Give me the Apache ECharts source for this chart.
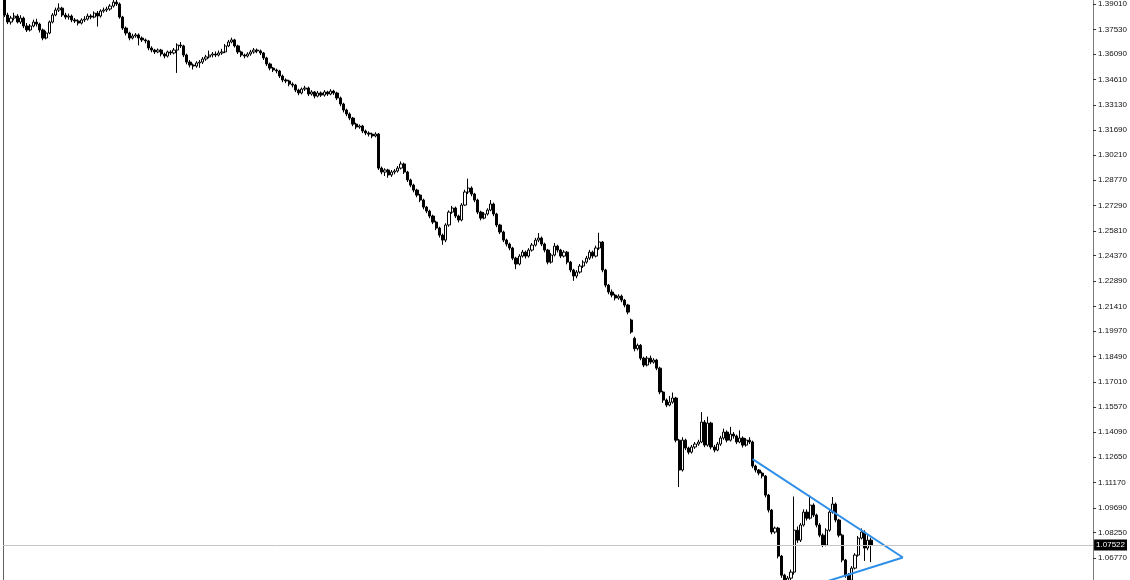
<!DOCTYPE html>
<html><head><meta charset="utf-8">
<script src="https://cdn.jsdelivr.net/npm/echarts@6/dist/echarts.min.js"></script>
<style>html,body{margin:0;padding:0;background:#fff;overflow:hidden}#c{width:1130px;height:580px}</style>
</head><body><div id="c"></div>
<script>
const open = [
1.3930,1.3837,1.3796,1.3819,1.3831,1.3796,1.3819,1.3773,1.3750,1.3773,
1.3796,1.3784,1.3750,1.3703,1.3732,1.3796,1.3837,1.3866,1.3877,1.3837,
1.3825,1.3831,1.3808,1.3802,1.3790,1.3808,1.3813,1.3831,1.3825,1.3848,
1.3831,1.3860,1.3866,1.3872,1.3889,1.3912,1.3901,1.3825,1.3761,1.3732,
1.3703,1.3715,1.3721,1.3703,1.3692,1.3686,1.3645,1.3633,1.3622,1.3633,
1.3610,1.3598,1.3622,1.3616,1.3633,1.3662,1.3657,1.3604,1.3563,1.3546,
1.3540,1.3558,1.3563,1.3581,1.3593,1.3604,1.3610,1.3604,1.3616,1.3622,
1.3657,1.3680,1.3692,1.3657,1.3622,1.3604,1.3598,1.3610,1.3622,1.3633,
1.3628,1.3616,1.3587,1.3552,1.3528,1.3517,1.3511,1.3482,1.3459,1.3453,
1.3435,1.3429,1.3400,1.3383,1.3406,1.3412,1.3377,1.3389,1.3365,1.3383,
1.3371,1.3389,1.3377,1.3394,1.3383,1.3354,1.3319,1.3284,1.3261,1.3237,
1.3202,1.3185,1.3191,1.3162,1.3150,1.3144,1.3133,1.3144,1.2946,1.2923,
1.2935,1.2906,1.2923,1.2929,1.2946,1.2970,1.2923,1.2877,1.2847,1.2818,
1.2789,1.2760,1.2719,1.2696,1.2667,1.2632,1.2597,1.2556,1.2527,1.2615,
1.2690,1.2714,1.2667,1.2644,1.2731,1.2807,1.2830,1.2795,1.2760,1.2690,
1.2655,1.2679,1.2702,1.2737,1.2679,1.2615,1.2574,1.2527,1.2504,1.2481,
1.2422,1.2388,1.2434,1.2457,1.2434,1.2469,1.2498,1.2527,1.2539,1.2504,
1.2469,1.2399,1.2440,1.2492,1.2469,1.2434,1.2457,1.2399,1.2353,1.2318,
1.2341,1.2376,1.2399,1.2422,1.2457,1.2434,1.2481,1.2516,1.2353,1.2265,
1.2225,1.2207,1.2190,1.2201,1.2178,1.2149,1.2062,1.1955,1.1895,1.1915,
1.1840,1.1800,1.1840,1.1817,1.1829,1.1782,1.1643,1.1596,1.1567,1.1584,
1.1608,1.1363,1.1189,1.1363,1.1317,1.1293,1.1323,1.1340,1.1352,1.1468,
1.1334,1.1462,1.1323,1.1305,1.1340,1.1375,1.1410,1.1363,1.1398,1.1387,
1.1352,1.1375,1.1334,1.1363,1.1352,1.1212,1.1189,1.1171,1.1154,1.1043,
1.0956,1.0828,1.0851,1.0688,1.0577,1.0519,1.0560,1.0595,1.0839,1.0781,
1.0869,1.0944,1.0909,1.0985,1.0927,1.0869,1.0810,1.0752,1.0839,1.0944,
1.0991,1.0898,1.0810,1.0665,1.0577,1.0548,1.0618,1.0694,1.0793,1.0828,
1.0735,1.0781
];
const close = [
1.3837,1.3796,1.3819,1.3831,1.3796,1.3819,1.3773,1.3750,1.3773,1.3796,
1.3784,1.3750,1.3703,1.3732,1.3796,1.3837,1.3866,1.3877,1.3837,1.3825,
1.3831,1.3808,1.3802,1.3790,1.3808,1.3813,1.3831,1.3825,1.3848,1.3831,
1.3860,1.3866,1.3872,1.3889,1.3912,1.3901,1.3825,1.3761,1.3732,1.3703,
1.3715,1.3721,1.3703,1.3692,1.3686,1.3645,1.3633,1.3622,1.3633,1.3610,
1.3598,1.3622,1.3616,1.3633,1.3662,1.3657,1.3604,1.3563,1.3546,1.3540,
1.3558,1.3563,1.3581,1.3593,1.3604,1.3610,1.3604,1.3616,1.3622,1.3657,
1.3680,1.3692,1.3657,1.3622,1.3604,1.3598,1.3610,1.3622,1.3633,1.3628,
1.3616,1.3587,1.3552,1.3528,1.3517,1.3511,1.3482,1.3459,1.3453,1.3435,
1.3429,1.3400,1.3383,1.3406,1.3412,1.3377,1.3389,1.3365,1.3383,1.3371,
1.3389,1.3377,1.3394,1.3383,1.3354,1.3319,1.3284,1.3261,1.3237,1.3202,
1.3185,1.3191,1.3162,1.3150,1.3144,1.3133,1.3144,1.2946,1.2923,1.2935,
1.2906,1.2923,1.2929,1.2946,1.2970,1.2923,1.2877,1.2847,1.2818,1.2789,
1.2760,1.2719,1.2696,1.2667,1.2632,1.2597,1.2556,1.2527,1.2615,1.2690,
1.2714,1.2667,1.2644,1.2731,1.2807,1.2830,1.2795,1.2760,1.2690,1.2655,
1.2679,1.2702,1.2737,1.2679,1.2615,1.2574,1.2527,1.2504,1.2481,1.2422,
1.2388,1.2434,1.2457,1.2434,1.2469,1.2498,1.2527,1.2539,1.2504,1.2469,
1.2399,1.2440,1.2492,1.2469,1.2434,1.2457,1.2399,1.2353,1.2318,1.2341,
1.2376,1.2399,1.2422,1.2457,1.2434,1.2481,1.2516,1.2353,1.2265,1.2225,
1.2207,1.2190,1.2201,1.2178,1.2149,1.2108,1.1992,1.1895,1.1915,1.1840,
1.1800,1.1840,1.1817,1.1829,1.1782,1.1643,1.1596,1.1567,1.1584,1.1608,
1.1363,1.1189,1.1363,1.1317,1.1293,1.1323,1.1340,1.1352,1.1468,1.1334,
1.1462,1.1323,1.1305,1.1340,1.1375,1.1410,1.1363,1.1398,1.1387,1.1352,
1.1375,1.1334,1.1363,1.1352,1.1212,1.1189,1.1171,1.1154,1.1043,1.0956,
1.0828,1.0851,1.0688,1.0577,1.0519,1.0560,1.0595,1.0839,1.0781,1.0869,
1.0944,1.0909,1.0985,1.0927,1.0869,1.0810,1.0752,1.0839,1.0944,1.0991,
1.0898,1.0810,1.0665,1.0577,1.0548,1.0618,1.0694,1.0793,1.0828,1.0735,
1.0781,1.07522
];
const low = [
1.3825,1.3784,1.3781,1.3805,1.3788,1.3785,1.3760,1.3738,1.3741,1.3765,
1.3770,1.3735,1.3690,1.3695,1.3725,1.3788,1.3830,1.3855,1.3826,1.3812,
1.3810,1.3795,1.3790,1.3776,1.3782,1.3796,1.3805,1.3812,1.3818,1.3770,
1.3822,1.3850,1.3855,1.3862,1.3880,1.3890,1.3815,1.3750,1.3718,1.3690,
1.3695,1.3705,1.3660,1.3680,1.3672,1.3632,1.3620,1.3610,1.3615,1.3596,
1.3585,1.3590,1.3604,1.3608,1.3500,1.3645,1.3592,1.3550,1.3532,1.3520,
1.3530,1.3530,1.3552,1.3570,1.3585,1.3590,1.3592,1.3596,1.3605,1.3615,
1.3650,1.3672,1.3648,1.3610,1.3592,1.3585,1.3590,1.3600,1.3612,1.3615,
1.3604,1.3575,1.3540,1.3515,1.3505,1.3498,1.3470,1.3446,1.3440,1.3422,
1.3416,1.3388,1.3370,1.3375,1.3395,1.3365,1.3368,1.3352,1.3358,1.3360,
1.3362,1.3366,1.3370,1.3372,1.3342,1.3306,1.3270,1.3248,1.3225,1.3190,
1.3172,1.3175,1.3150,1.3138,1.3130,1.3120,1.3125,1.2935,1.2910,1.2900,
1.2890,1.2895,1.2910,1.2920,1.2938,1.2912,1.2865,1.2835,1.2805,1.2776,
1.2748,1.2706,1.2684,1.2654,1.2620,1.2585,1.2542,1.2500,1.2515,1.2605,
1.2680,1.2655,1.2630,1.2636,1.2725,1.2795,1.2782,1.2748,1.2678,1.2642,
1.2648,1.2670,1.2695,1.2666,1.2602,1.2562,1.2515,1.2490,1.2468,1.2410,
1.2358,1.2380,1.2425,1.2420,1.2425,1.2460,1.2490,1.2515,1.2492,1.2456,
1.2386,1.2390,1.2432,1.2455,1.2422,1.2426,1.2386,1.2340,1.2290,1.2305,
1.2332,1.2365,1.2390,1.2412,1.2420,1.2426,1.2470,1.2340,1.2252,1.2212,
1.2194,1.2176,1.2180,1.2165,1.2136,1.2095,1.1982,1.1880,1.1885,1.1828,
1.1788,1.1792,1.1805,1.1808,1.1770,1.1630,1.1580,1.1555,1.1560,1.1575,
1.1350,1.1090,1.1180,1.1305,1.1280,1.1285,1.1312,1.1330,1.1345,1.1322,
1.1325,1.1310,1.1292,1.1298,1.1330,1.1365,1.1350,1.1355,1.1372,1.1340,
1.1345,1.1320,1.1325,1.1340,1.1200,1.1175,1.1158,1.1140,1.1030,1.0942,
1.0815,1.0818,1.0675,1.0562,1.0462,1.0500,1.0545,1.0580,1.0765,1.0770,
1.0860,1.0895,1.0900,1.0915,1.0855,1.0798,1.0740,1.0745,1.0830,1.0935,
1.0885,1.0798,1.0652,1.0562,1.0520,1.0540,1.0610,1.0685,1.0785,1.0660,
1.0722,1.0653
];
const high = [
1.3945,1.3850,1.3832,1.3850,1.3842,1.3836,1.3828,1.3790,1.3784,1.3810,
1.3815,1.3792,1.3758,1.3745,1.3805,1.3848,1.3880,1.3905,1.3885,1.3850,
1.3845,1.3840,1.3820,1.3812,1.3818,1.3830,1.3845,1.3842,1.3858,1.3860,
1.3870,1.3880,1.3885,1.3900,1.3940,1.3925,1.3910,1.3832,1.3770,1.3740,
1.3728,1.3732,1.3730,1.3712,1.3700,1.3692,1.3655,1.3640,1.3642,1.3640,
1.3618,1.3630,1.3632,1.3645,1.3672,1.3680,1.3664,1.3612,1.3575,1.3555,
1.3568,1.3575,1.3592,1.3605,1.3630,1.3622,1.3625,1.3630,1.3640,1.3668,
1.3692,1.3705,1.3698,1.3664,1.3630,1.3612,1.3620,1.3634,1.3645,1.3642,
1.3636,1.3622,1.3594,1.3560,1.3535,1.3525,1.3518,1.3490,1.3468,1.3460,
1.3445,1.3436,1.3408,1.3415,1.3425,1.3420,1.3400,1.3395,1.3395,1.3392,
1.3400,1.3396,1.3405,1.3402,1.3390,1.3362,1.3326,1.3292,1.3270,1.3244,
1.3210,1.3200,1.3198,1.3170,1.3160,1.3152,1.3155,1.3150,1.2955,1.2945,
1.2942,1.2935,1.2940,1.2958,1.2985,1.2978,1.2930,1.2885,1.2855,1.2826,
1.2796,1.2768,1.2726,1.2704,1.2675,1.2640,1.2605,1.2565,1.2625,1.2700,
1.2726,1.2722,1.2675,1.2742,1.2820,1.2885,1.2840,1.2802,1.2768,1.2698,
1.2690,1.2712,1.2760,1.2745,1.2686,1.2622,1.2582,1.2535,1.2512,1.2488,
1.2430,1.2445,1.2470,1.2466,1.2480,1.2510,1.2540,1.2568,1.2548,1.2512,
1.2476,1.2452,1.2510,1.2500,1.2476,1.2468,1.2464,1.2406,1.2360,1.2352,
1.2388,1.2410,1.2435,1.2470,1.2466,1.2495,1.2570,1.2522,1.2360,1.2272,
1.2240,1.2215,1.2212,1.2210,1.2185,1.2156,1.2070,1.1965,1.1925,1.1922,
1.1848,1.1852,1.1855,1.1840,1.1836,1.1790,1.1650,1.1605,1.1620,1.1640,
1.1615,1.1370,1.1380,1.1372,1.1325,1.1335,1.1352,1.1365,1.1526,1.1480,
1.1500,1.1470,1.1335,1.1352,1.1388,1.1430,1.1420,1.1440,1.1410,1.1395,
1.1420,1.1385,1.1375,1.1380,1.1360,1.1220,1.1195,1.1180,1.1160,1.1050,
1.0962,1.0860,1.0858,1.0695,1.0585,1.0572,1.0610,1.1035,1.0860,1.0880,
1.0960,1.0960,1.1043,1.0995,1.0935,1.0880,1.0820,1.0850,1.0960,1.1032,
1.1000,1.0905,1.0818,1.0672,1.0590,1.0630,1.0705,1.0805,1.0849,1.0838,
1.0810,1.0795
];
const tickLabels = [1.39010,1.37530,1.36090,1.34610,1.33130,1.31690,1.30210,1.28770,1.27290,1.25810,1.24370,1.22890,1.21410,1.19970,1.18490,1.17010,1.15570,1.14090,1.12650,1.11170,1.09690,1.08250,1.06770];
const trendTop = [[234, 1.1252], [281, 1.0680]];
const trendBottom = [[255, 1.0528], [281, 1.0680]];
const totalSlots = 341;

const categories = [];
for (let i = 0; i < totalSlots; i++) categories.push(String(i + 1));
const candles = open.map((o, i) => [o, close[i], low[i], high[i]]);
const lastPrice = close[close.length - 1];
const yMin = 1.05490, yMax = 1.39243;

const chart = echarts.init(document.getElementById('c'), null, {renderer: 'canvas'});
chart.setOption({
  animation: false,
  backgroundColor: '#ffffff',
  grid: {left: 3, right: 34, top: 0, bottom: 0, containLabel: false},
  xAxis: {
    type: 'category', data: categories, boundaryGap: true,
    axisLine: {show: false}, axisTick: {show: false}, axisLabel: {show: false}, splitLine: {show: false}
  },
  yAxis: [{
    type: 'value', position: 'right', min: yMin, max: yMax, scale: true,
    axisLine: {show: true, lineStyle: {color: '#7a7a7a', width: 1}},
    axisTick: {show: true, length: 3, customValues: tickLabels, lineStyle: {color: '#333'}},
    axisLabel: {show: true, customValues: tickLabels, margin: 5, color: '#111',
      fontFamily: 'Liberation Sans', fontSize: 8, formatter: v => v.toFixed(5)},
    splitLine: {show: false}
  }, {
    type: 'value', position: 'left', min: yMin, max: yMax,
    axisLine: {show: true, lineStyle: {color: '#606060', width: 1}},
    axisTick: {show: false}, axisLabel: {show: false}, splitLine: {show: false}
  }],
  series: [{
    type: 'candlestick', data: candles, barWidth: 2.7, clip: true,
    itemStyle: {color: '#ffffff', color0: '#000000', borderColor: '#000000', borderColor0: '#000000', borderWidth: 1},
    markLine: {
      silent: true, symbol: 'none', animation: false, precision: 5,
      lineStyle: {color: '#c4c4c4', width: 1, type: 'solid'},
      label: {show: true, position: 'end', distance: 1, formatter: p => p.value.toFixed(5),
        color: '#fff', backgroundColor: '#000', padding: [2, 2, 1, 2], fontFamily: 'Liberation Sans', fontSize: 8},
      data: [{yAxis: lastPrice}]
    }
  }, {
    type: 'line', data: trendTop, symbol: 'none', clip: true,
    lineStyle: {color: '#2f8fe8', width: 2}
  }, {
    type: 'line', data: trendBottom, symbol: 'none', clip: true,
    lineStyle: {color: '#2f8fe8', width: 2}
  }]
});
</script>
</body></html>
